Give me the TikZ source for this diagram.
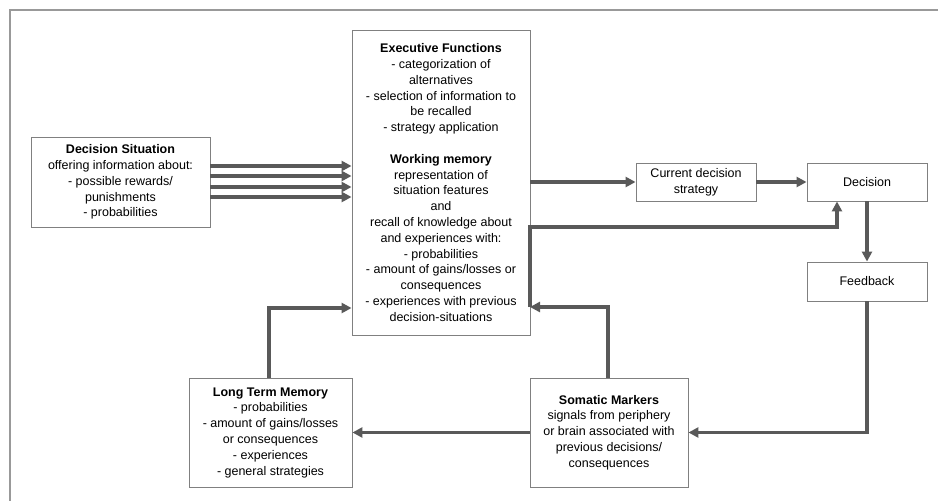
\documentclass[tikz,border=0pt]{standalone}
\usepackage{fontspec}
\setmainfont{Liberation Sans}
\usetikzlibrary{arrows.meta}
\begin{document}
\begin{tikzpicture}[x=1pt,y=-1pt,
  box/.style={draw=black!50,line width=0.9pt,fill=white,align=center,inner sep=0pt,
    font=\fontsize{12.5}{15.8}\selectfont},
  flow/.style={draw=black!65,line width=3.6pt,
    -{Triangle[length=10pt,width=10pt]}},
  frame/.style={draw=black!40,line width=2pt}]
\useasboundingbox (0,0) rectangle (938,501);
\clip (0,0) rectangle (938,501);
\draw[frame] (10,510) -- (10,10) -- (950,10);

% boxes
\node[box,minimum width=179pt,minimum height=90pt] (ds) at (120.5,182)
  {\textbf{Decision Situation}\\offering information about:\\- possible rewards/\\punishments\\- probabilities};
\node[box,minimum width=178pt,minimum height=305pt] (ef) at (441,182.5)
  {\textbf{Executive Functions}\\- categorization of\\alternatives\\- selection of information to\\be recalled\\- strategy application\\[15.8pt]
   \textbf{Working memory}\\representation of\\situation features\\and\\recall of knowledge about\\and experiences with:\\- probabilities\\- amount of gains/losses or\\consequences\\- experiences with previous\\decision-situations};
\node[box,minimum width=120pt,minimum height=38pt] (cds) at (696,182)
  {Current decision\\strategy};
\node[box,minimum width=120pt,minimum height=38pt] (dec) at (867,182) {Decision};
\node[box,minimum width=120pt,minimum height=39pt] (fb) at (867,281.5) {Feedback};
\node[box,minimum width=163pt,minimum height=109pt] (ltm) at (270.5,432.5)
  {\textbf{Long Term Memory}\\- probabilities\\- amount of gains/losses\\or consequences\\- experiences\\- general strategies};
\node[box,minimum width=158pt,minimum height=109pt] (sm) at (609,432.5)
  {\textbf{Somatic Markers}\\signals from periphery\\or brain associated with\\previous decisions/\\consequences};

% bend points
\coordinate (smup) at (530,307);
\coordinate (upper) at (530,227);
\coordinate (dturn) at (837,227);
\coordinate (ltmup) at (269,308);

% situation information into working memory
\foreach \yy in {166,176,187,197}
  \draw[flow] (ds.east |- 0,\yy) -- (ef.west |- 0,\yy);

\draw[flow] (ef.east |- 0,182) -- (cds.west |- 0,182);
\draw[flow] (cds.east) -- (dec.west);
\draw[flow] (dec.south) -- (fb.north);
\draw[flow] (fb.south) |- (sm.east);
\draw[flow] (sm.west) -- (ltm.east);
\draw[flow] (ltm.north -| ltmup) -- (ltmup) -- (ef.west |- ltmup);
\draw[flow] (sm.north -| 608,0) |- (smup);
\draw[flow] (smup) -- (upper) -- (dturn) -- (dec.south -| dturn);
\end{tikzpicture}
\end{document}
